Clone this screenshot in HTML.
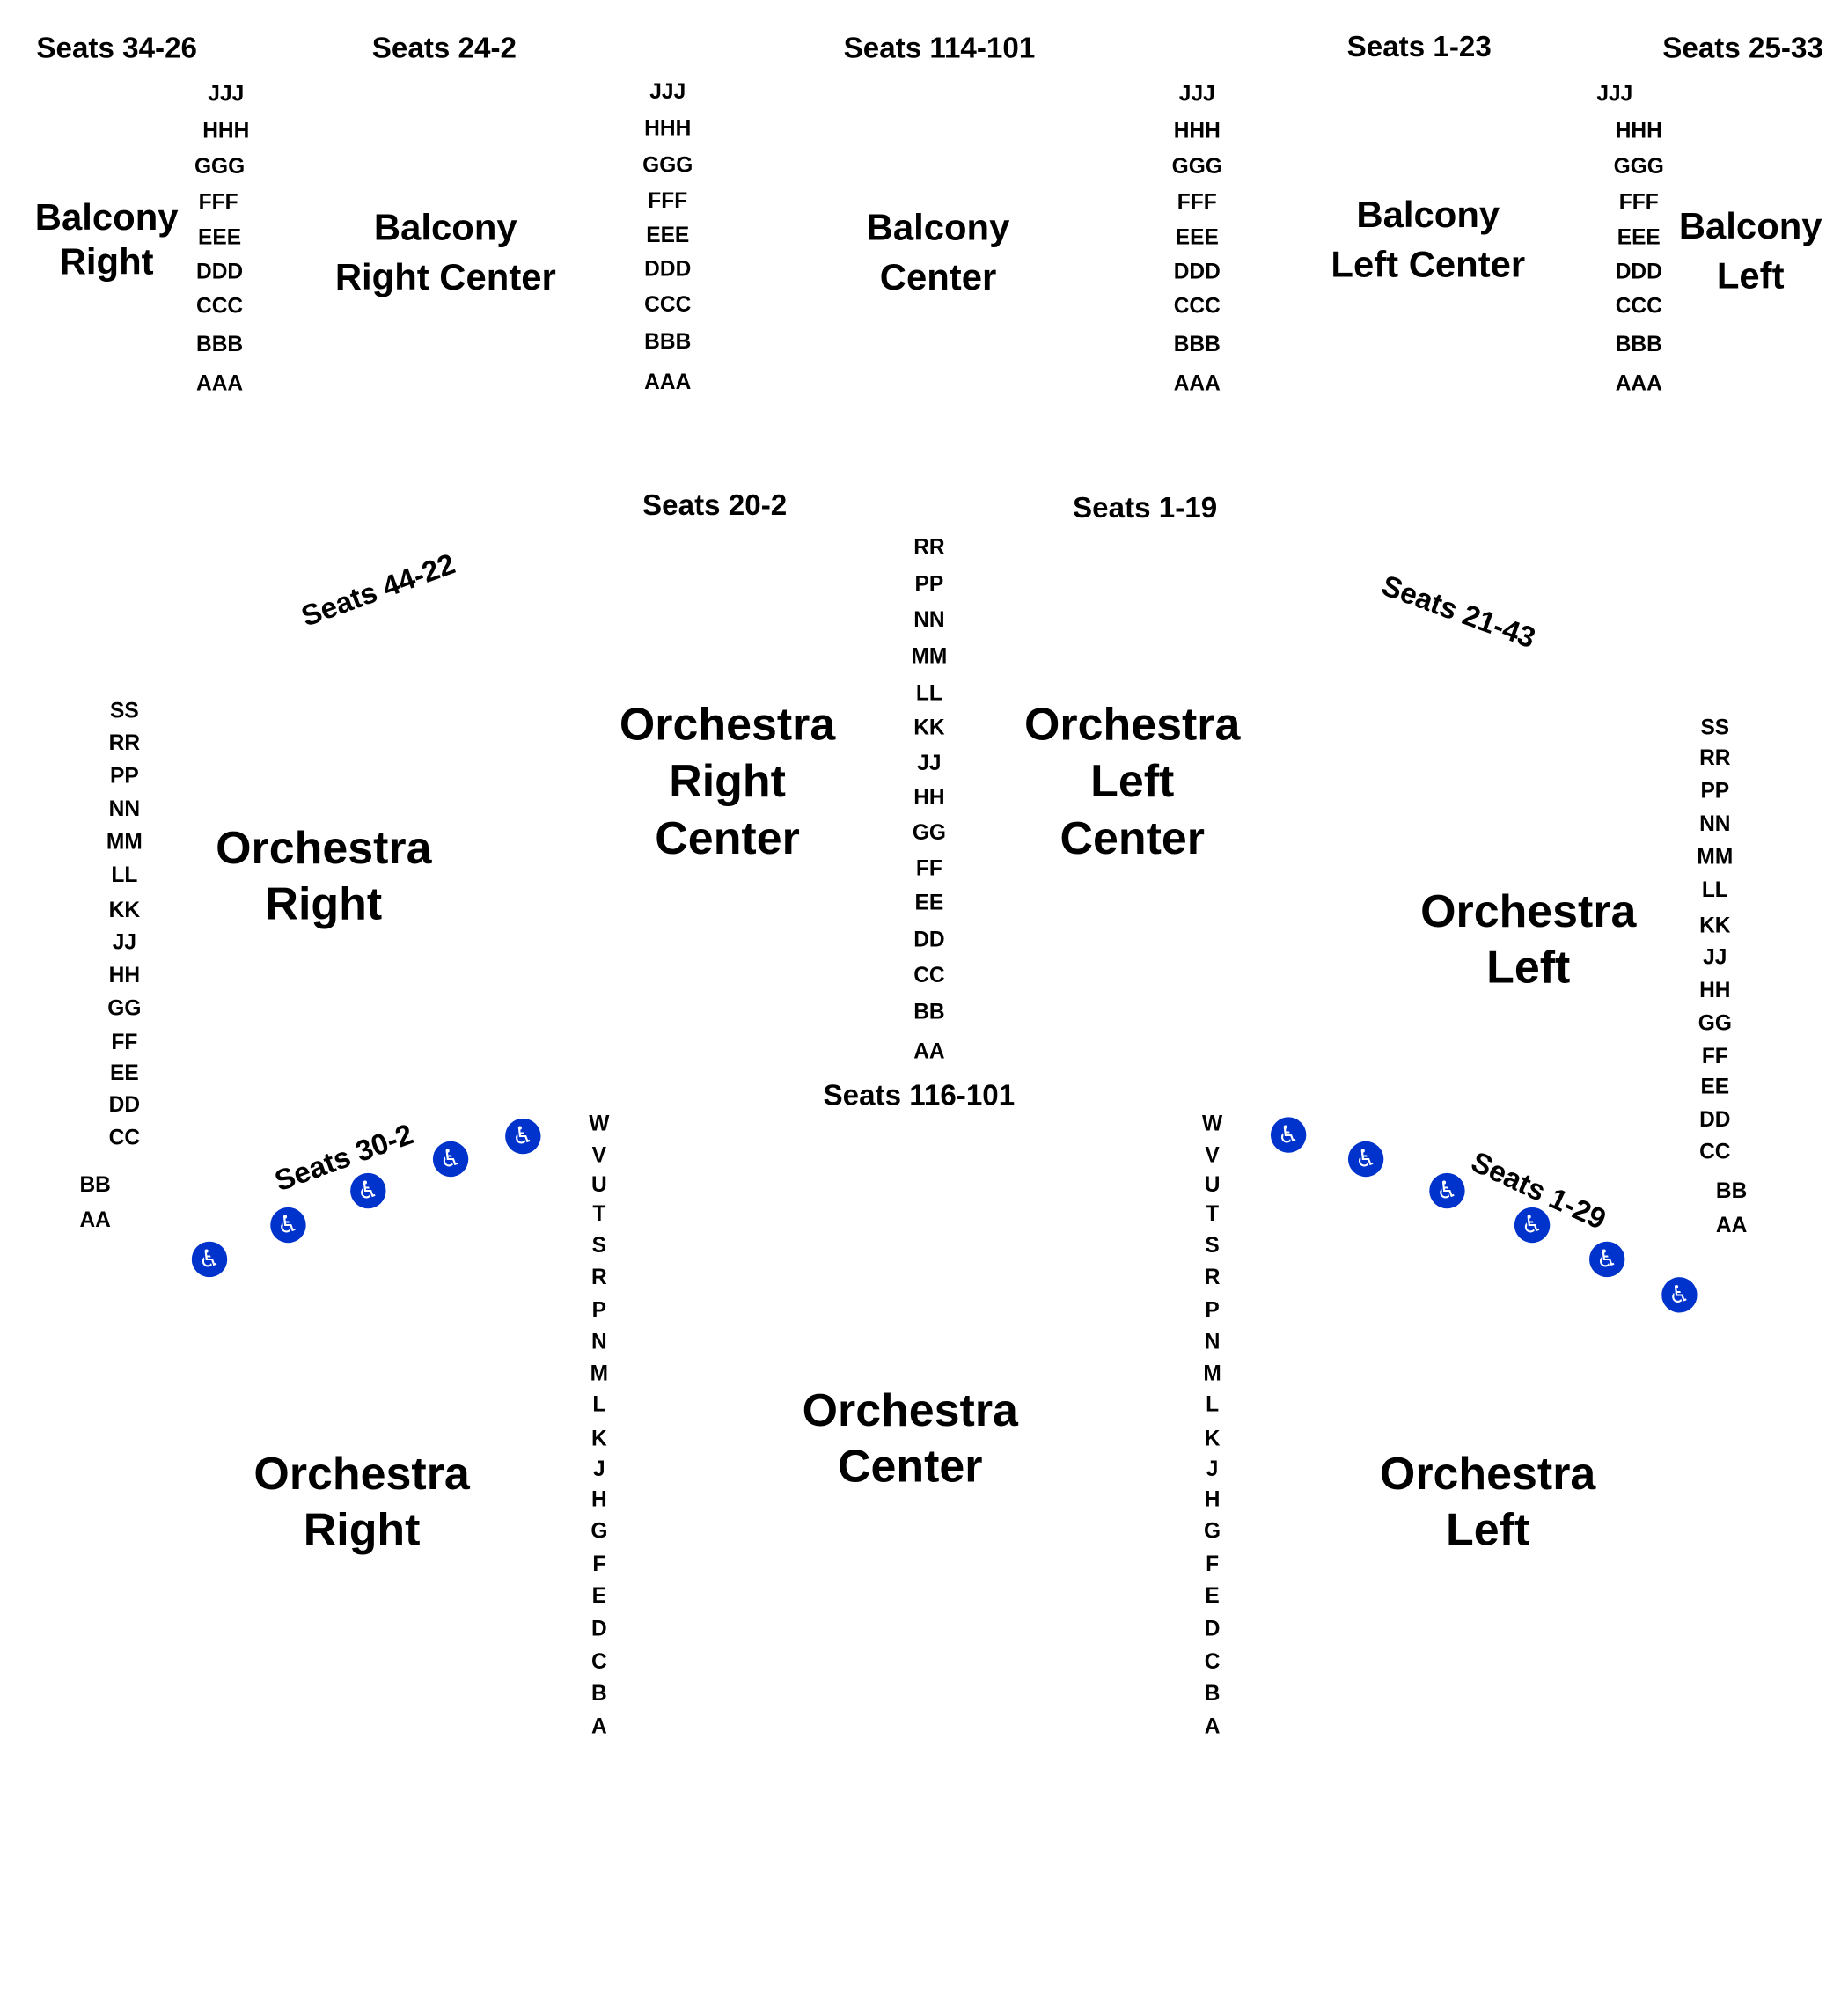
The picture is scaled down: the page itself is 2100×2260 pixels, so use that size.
<!DOCTYPE html>
<html><head><meta charset="utf-8"><style>
html,body{margin:0;padding:0;background:#fff}
#w{position:relative;width:1456px;height:1567px;transform:scale(1.4425);transform-origin:0 0;font-family:"Liberation Sans",Arial,sans-serif;font-weight:bold;color:#000}
#w div{position:absolute;transform:translate(-50%,-50%);white-space:nowrap;line-height:1}
.r{font-size:17px}
.h{font-size:23px}
.b{font-size:29px;text-align:center}
.o{font-size:36px;text-align:center}
#w div.c{width:28px;height:28px;border-radius:50%;background:#0033cc;color:#fff;font-family:"DejaVu Sans",sans-serif;font-size:19px;line-height:28px;text-align:center;font-weight:normal}
</style></head><body><div id="w">
<div class="h" style="left:92px;top:38px">Seats 34-26</div>
<div class="h" style="left:350px;top:38px">Seats 24-2</div>
<div class="h" style="left:740px;top:38px">Seats 114-101</div>
<div class="h" style="left:1118px;top:37px">Seats 1-23</div>
<div class="h" style="left:1373px;top:38px">Seats 25-33</div>
<div class="h" style="left:563px;top:398px">Seats 20-2</div>
<div class="h" style="left:902px;top:400px">Seats 1-19</div>
<div class="h" style="left:724px;top:863px">Seats 116-101</div>
<div class="h" style="left:298px;top:465px;transform:translate(-50%,-50%) rotate(-20deg)">Seats 44-22</div>
<div class="h" style="left:1149px;top:482px;transform:translate(-50%,-50%) rotate(20deg)">Seats 21-43</div>
<div class="h" style="left:271px;top:912px;transform:translate(-50%,-50%) rotate(-20deg)">Seats 30-2</div>
<div class="h" style="left:1212px;top:938px;transform:translate(-50%,-50%) rotate(25deg)">Seats 1-29</div>

<div class="b" style="left:84px;top:190px;line-height:35px">Balcony<br>Right</div>
<div class="b" style="left:351px;top:200px;line-height:39px">Balcony<br>Right Center</div>
<div class="b" style="left:739px;top:200px;line-height:39px">Balcony<br>Center</div>
<div class="b" style="left:1125px;top:190px;line-height:39px">Balcony<br>Left Center</div>
<div class="b" style="left:1379px;top:199px;line-height:39px">Balcony<br>Left</div>

<div class="o" style="left:573px;top:615px;line-height:45px">Orchestra<br>Right<br>Center</div>
<div class="o" style="left:892px;top:615px;line-height:45px">Orchestra<br>Left<br>Center</div>
<div class="o" style="left:255px;top:690px;line-height:44px">Orchestra<br>Right</div>
<div class="o" style="left:1204px;top:740px;line-height:44px">Orchestra<br>Left</div>
<div class="o" style="left:717px;top:1133px;line-height:44px">Orchestra<br>Center</div>
<div class="o" style="left:285px;top:1183px;line-height:44px">Orchestra<br>Right</div>
<div class="o" style="left:1172px;top:1183px;line-height:44px">Orchestra<br>Left</div>

<div class="r" style="left:178px;top:74px">JJJ</div><div class="r" style="left:178px;top:103px">HHH</div><div class="r" style="left:173px;top:131px">GGG</div><div class="r" style="left:172px;top:159px">FFF</div><div class="r" style="left:173px;top:187px">EEE</div><div class="r" style="left:173px;top:214px">DDD</div><div class="r" style="left:173px;top:241px">CCC</div><div class="r" style="left:173px;top:271px">BBB</div><div class="r" style="left:173px;top:302px">AAA</div>
<div class="r" style="left:526px;top:72px">JJJ</div><div class="r" style="left:526px;top:101px">HHH</div><div class="r" style="left:526px;top:130px">GGG</div><div class="r" style="left:526px;top:158px">FFF</div><div class="r" style="left:526px;top:185px">EEE</div><div class="r" style="left:526px;top:212px">DDD</div><div class="r" style="left:526px;top:240px">CCC</div><div class="r" style="left:526px;top:269px">BBB</div><div class="r" style="left:526px;top:301px">AAA</div>
<div class="r" style="left:943px;top:74px">JJJ</div><div class="r" style="left:943px;top:103px">HHH</div><div class="r" style="left:943px;top:131px">GGG</div><div class="r" style="left:943px;top:159px">FFF</div><div class="r" style="left:943px;top:187px">EEE</div><div class="r" style="left:943px;top:214px">DDD</div><div class="r" style="left:943px;top:241px">CCC</div><div class="r" style="left:943px;top:271px">BBB</div><div class="r" style="left:943px;top:302px">AAA</div>
<div class="r" style="left:1272px;top:74px">JJJ</div><div class="r" style="left:1291px;top:103px">HHH</div><div class="r" style="left:1291px;top:131px">GGG</div><div class="r" style="left:1291px;top:159px">FFF</div><div class="r" style="left:1291px;top:187px">EEE</div><div class="r" style="left:1291px;top:214px">DDD</div><div class="r" style="left:1291px;top:241px">CCC</div><div class="r" style="left:1291px;top:271px">BBB</div><div class="r" style="left:1291px;top:302px">AAA</div>

<div class="r" style="left:732px;top:431px">RR</div><div class="r" style="left:732px;top:460px">PP</div><div class="r" style="left:732px;top:488px">NN</div><div class="r" style="left:732px;top:517px">MM</div><div class="r" style="left:732px;top:546px">LL</div><div class="r" style="left:732px;top:573px">KK</div><div class="r" style="left:732px;top:601px">JJ</div><div class="r" style="left:732px;top:628px">HH</div><div class="r" style="left:732px;top:656px">GG</div><div class="r" style="left:732px;top:684px">FF</div><div class="r" style="left:732px;top:711px">EE</div><div class="r" style="left:732px;top:740px">DD</div><div class="r" style="left:732px;top:768px">CC</div><div class="r" style="left:732px;top:797px">BB</div><div class="r" style="left:732px;top:828px">AA</div>

<div class="r" style="left:98px;top:560px">SS</div><div class="r" style="left:98px;top:585px">RR</div><div class="r" style="left:98px;top:611px">PP</div><div class="r" style="left:98px;top:637px">NN</div><div class="r" style="left:98px;top:663px">MM</div><div class="r" style="left:98px;top:689px">LL</div><div class="r" style="left:98px;top:717px">KK</div><div class="r" style="left:98px;top:742px">JJ</div><div class="r" style="left:98px;top:768px">HH</div><div class="r" style="left:98px;top:794px">GG</div><div class="r" style="left:98px;top:821px">FF</div><div class="r" style="left:98px;top:845px">EE</div><div class="r" style="left:98px;top:870px">DD</div><div class="r" style="left:98px;top:896px">CC</div><div class="r" style="left:75px;top:933px">BB</div><div class="r" style="left:75px;top:961px">AA</div>

<div class="r" style="left:1351px;top:573px">SS</div><div class="r" style="left:1351px;top:597px">RR</div><div class="r" style="left:1351px;top:623px">PP</div><div class="r" style="left:1351px;top:649px">NN</div><div class="r" style="left:1351px;top:675px">MM</div><div class="r" style="left:1351px;top:701px">LL</div><div class="r" style="left:1351px;top:729px">KK</div><div class="r" style="left:1351px;top:754px">JJ</div><div class="r" style="left:1351px;top:780px">HH</div><div class="r" style="left:1351px;top:806px">GG</div><div class="r" style="left:1351px;top:832px">FF</div><div class="r" style="left:1351px;top:856px">EE</div><div class="r" style="left:1351px;top:882px">DD</div><div class="r" style="left:1351px;top:907px">CC</div><div class="r" style="left:1364px;top:938px">BB</div><div class="r" style="left:1364px;top:965px">AA</div>

<div class="r" style="left:472px;top:885px">W</div><div class="r" style="left:472px;top:910px">V</div><div class="r" style="left:472px;top:933px">U</div><div class="r" style="left:472px;top:956px">T</div><div class="r" style="left:472px;top:981px">S</div><div class="r" style="left:472px;top:1006px">R</div><div class="r" style="left:472px;top:1032px">P</div><div class="r" style="left:472px;top:1057px">N</div><div class="r" style="left:472px;top:1082px">M</div><div class="r" style="left:472px;top:1106px">L</div><div class="r" style="left:472px;top:1133px">K</div><div class="r" style="left:472px;top:1157px">J</div><div class="r" style="left:472px;top:1181px">H</div><div class="r" style="left:472px;top:1206px">G</div><div class="r" style="left:472px;top:1232px">F</div><div class="r" style="left:472px;top:1257px">E</div><div class="r" style="left:472px;top:1283px">D</div><div class="r" style="left:472px;top:1309px">C</div><div class="r" style="left:472px;top:1334px">B</div><div class="r" style="left:472px;top:1360px">A</div>
<div class="r" style="left:955px;top:885px">W</div><div class="r" style="left:955px;top:910px">V</div><div class="r" style="left:955px;top:933px">U</div><div class="r" style="left:955px;top:956px">T</div><div class="r" style="left:955px;top:981px">S</div><div class="r" style="left:955px;top:1006px">R</div><div class="r" style="left:955px;top:1032px">P</div><div class="r" style="left:955px;top:1057px">N</div><div class="r" style="left:955px;top:1082px">M</div><div class="r" style="left:955px;top:1106px">L</div><div class="r" style="left:955px;top:1133px">K</div><div class="r" style="left:955px;top:1157px">J</div><div class="r" style="left:955px;top:1181px">H</div><div class="r" style="left:955px;top:1206px">G</div><div class="r" style="left:955px;top:1232px">F</div><div class="r" style="left:955px;top:1257px">E</div><div class="r" style="left:955px;top:1283px">D</div><div class="r" style="left:955px;top:1309px">C</div><div class="r" style="left:955px;top:1334px">B</div><div class="r" style="left:955px;top:1360px">A</div>

<div class="c" style="left:165px;top:992px">♿</div><div class="c" style="left:227px;top:965px">♿</div><div class="c" style="left:290px;top:938px">♿</div><div class="c" style="left:355px;top:913px">♿</div><div class="c" style="left:412px;top:895px">♿</div>
<div class="c" style="left:1015px;top:894px">♿</div><div class="c" style="left:1076px;top:913px">♿</div><div class="c" style="left:1140px;top:938px">♿</div><div class="c" style="left:1207px;top:965px">♿</div><div class="c" style="left:1266px;top:992px">♿</div><div class="c" style="left:1323px;top:1020px">♿</div>
</div></body></html>
